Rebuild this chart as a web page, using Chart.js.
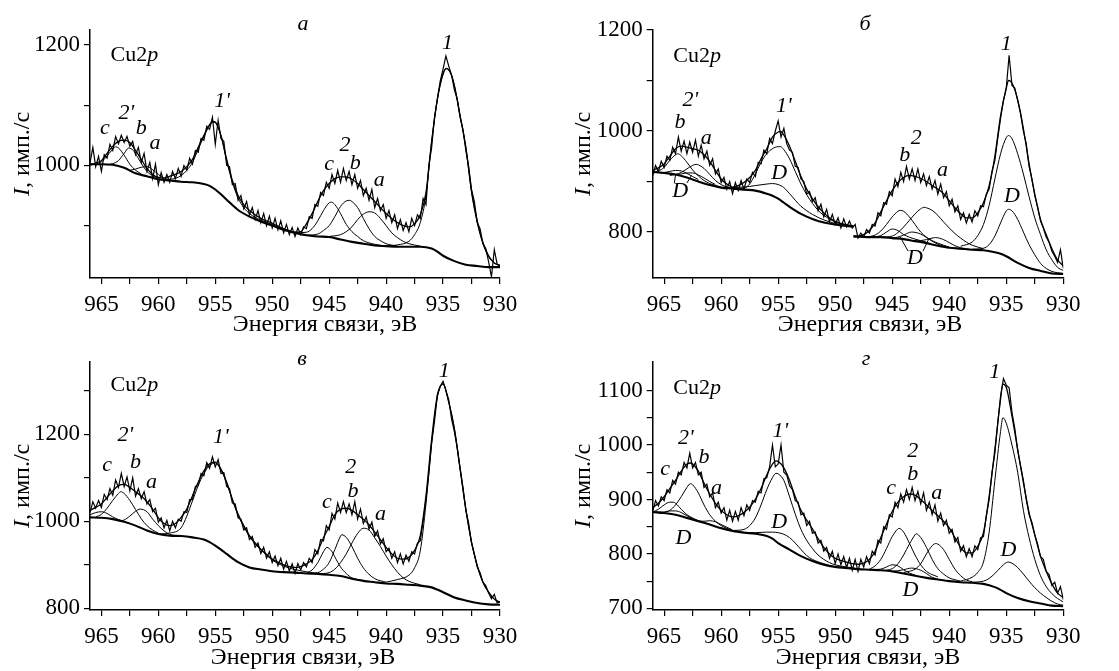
<!DOCTYPE html>
<html>
<head>
<meta charset="utf-8">
<script src="https://cdn.jsdelivr.net/npm/chart.js@4.4.1/dist/chart.umd.min.js"></script>
<style>
  html, body { margin: 0; padding: 0; background: #fff; }
  #page { position: relative; width: 1119px; height: 671px; overflow: hidden; }
  canvas { position: absolute; }
</style>
</head>
<body>
<div id="page">
  <canvas id="panelA" width="560" height="336" style="left:0;top:0"></canvas>
  <canvas id="panelB" width="559" height="336" style="left:560px;top:0"></canvas>
  <canvas id="panelC" width="560" height="335" style="left:0;top:336px"></canvas>
  <canvas id="panelD" width="559" height="335" style="left:560px;top:336px"></canvas>
</div>
<script>
// ---- shared axis data ----
const xTicks = [965, 962.5, 960, 957.5, 955, 952.5, 950, 947.5, 945, 942.5, 940, 937.5, 935, 932.5, 930];
const xLabelled = [965, 960, 955, 950, 945, 940, 935, 930];

// energy grid of the measured (noisy) spectra, eV
const energyGrid = [
  966,965.75,965.5,965.25,965,964.75,964.5,964.25,964,963.75,963.5,963.25,
  963,962.75,962.5,962.25,962,961.75,961.5,961.25,961,960.75,960.5,960.25,
  960,959.75,959.5,959.25,959,958.75,958.5,958.25,958,957.75,957.5,957.25,
  957,956.75,956.5,956.25,956,955.75,955.5,955.25,955,954.75,954.5,954.25,
  954,953.75,953.5,953.25,953,952.75,952.5,952.25,952,951.75,951.5,951.25,
  951,950.75,950.5,950.25,950,949.75,949.5,949.25,949,948.75,948.5,948.25,
  948,947.75,947.5,947.25,947,946.75,946.5,946.25,946,945.75,945.5,945.25,
  945,944.75,944.5,944.25,944,943.75,943.5,943.25,943,942.75,942.5,942.25,
  942,941.75,941.5,941.25,941,940.75,940.5,940.25,940,939.75,939.5,939.25,
  939,938.75,938.5,938.25,938,937.75,937.5,937.25,937,936.75,936.5,936.25,
  936,935.75,935.5,935.25,935,934.75,934.5,934.25,934,933.75,933.5,933.25,
  933,932.75,932.5,932.25,932,931.75,931.5,931.25,931,930.75,930.5,930.25,
  930];

// ---- panel а ----
const aYTicks = [900, 1000, 1100, 1200];
const aYLabelled = [1000, 1200];
const aMeasured = [
  1004,1030,998,1015,990,1018,1012,1035,1025,1048,1036,1050,
  1038,1048,1032,1040,1018,1030,1005,1020,990,1005,978,1002,
  968,988,972,985,972,990,978,995,982,1000,992,1012,
  1002,1025,1022,1045,1042,1065,1060,1080,1035,1075,1045,1040,
  1000,998,968,970,942,950,928,940,918,930,910,925,
  905,920,900,916,896,912,893,908,888,902,885,897,
  882,896,885,898,895,915,912,935,932,955,950,972,
  962,985,970,992,972,995,975,990,968,985,962,975,
  950,962,942,960,930,945,925,935,912,925,905,918,
  895,910,892,905,890,912,900,918,912,945,935,1000,
  1030,1080,1110,1140,1160,1182,1165,1150,1125,1110,1080,1060,
  1025,998,960,940,905,895,870,862,840,815,860,836,
  832];
const aEnvelope = [[966,1000],[965.5,1004],[965,1008],[964.5,1020],[964,1032],[963.5,1040],[963,1042],[962.5,1038],[962,1025],[961.5,1010],[961,995],[960.5,985],[960,980],[959.5,979],[959,982],[958.5,985],[958,990],[957.5,998],[957,1010],[956.5,1030],[956,1050],[955.5,1068],[955.2,1073],[955,1072],[954.5,1050],[954,1010],[953.5,975],[953,950],[952.5,935],[952,925],[951,912],[950,904],[949,895],[948,889],[947.5,890],[947,903],[946.5,920],[946,940],[945.5,958],[945,970],[944.5,978],[944,981],[943.5,981],[943,977],[942.5,970],[942,960],[941.5,950],[941,940],[940.5,930],[940,920],[939.5,912],[939,905],[938.5,900],[938,898],[937.5,903],[937,918],[936.5,955],[936,1040],[935.5,1110],[935,1152],[934.7,1161],[934.3,1152],[934,1132],[933.5,1082],[933,1030],[932.5,958],[932,908],[931.5,872],[931,850],[930.5,838],[930,834]];
const aBackground = [[966,1002],[965,1002],[964,1001],[963,996],[962,987],[961,982],[960,977],[959,975],[958,973],[957,972],[956,969],[955.5,966],[955,960],[954.5,952],[954,943],[953,926],[952,915],[951,907],[950,900],[949,893],[948,888],[947,884],[946,882],[945,881],[944,877],[943,873],[942,870],[941,867],[940,866],[939,865],[938,865],[937,865],[936,862],[935.5,857],[935,850],[934,841],[933,835],[932,833],[931,831],[930,831]];
const aPeak1 = [[940,866],[939,868],[938,874],[937.5,885],[937,905],[936.5,950],[936,1040],[935.5,1110],[935,1152],[934.7,1161],[934.3,1152],[934,1132],[933.5,1082],[933,1030],[932.5,955],[932,905],[931.5,870],[931,848],[930.5,838],[930,834]];
const aPeak1p = [[961,982],[960,977],[959,977],[958,983],[957.5,992],[957,1005],[956.5,1027],[956,1048],[955.5,1067],[955.2,1072],[955,1071],[954.5,1049],[954,1008],[953.5,972],[953,946],[952.5,930],[952,920],[951,909],[950,902],[949,894],[948,889],[947,884],[946,882]];
const aPeak2c = [[948,888],[947,889],[946.5,895],[946,908],[945.5,925],[945,938],[944.8,939],[944.5,935],[944,920],[943.5,902],[943,890],[942.5,882],[942,875],[941,869],[940,866]];
const aPeak2b = [[947,884],[946,886],[945.5,892],[945,900],[944.5,915],[944,932],[943.5,941],[943.2,942],[943,940],[942.5,930],[942,912],[941.5,895],[941,882],[940.5,875],[940,870],[939,866]];
const aPeak2a = [[945,882],[944,885],[943.5,890],[943,898],[942.5,910],[942,919],[941.5,923],[941,921],[940.5,912],[940,900],[939.5,888],[939,880],[938.5,874],[938,870],[937,866]];
const aPeak2pc = [[966,1002],[965.5,1003],[965,1006],[964.5,1016],[964,1027],[963.8,1031],[963.5,1029],[963,1017],[962.5,1002],[962,992],[961.5,986]];
const aPeak2pb = [[964.5,1001],[964,1003],[963.5,1008],[963,1020],[962.6,1029],[962.2,1025],[961.8,1013],[961.3,998],[961,990],[960.5,983],[960,978]];
const aPeak2pa = [[962.5,992],[962,994],[961.5,997],[961,998],[960.5,993],[960,985],[959.5,979],[959,976]];
const aLabels = [[934.6,1203,'1'],[954.4,1106,"1'"],[962.8,1087,"2'"],[964.7,1062,'c'],[961.5,1062,'b'],[960.3,1037,'a'],
  [943.6,1034,'2'],[945.0,1002,'c'],[942.7,1004,'b'],[940.6,976,'a']];

// ---- panel б ----
const bYTicks = [800, 900, 1000, 1100, 1200];
const bYLabelled = [800, 1000, 1200];
const bMeasured = [
  912,932,920,940,928,950,942,968,955,988,960,980,
  955,978,958,982,950,972,945,960,932,945,915,925,
  898,908,885,900,876,898,882,902,885,905,898,918,
  910,938,935,962,955,985,975,1000,1020,988,1005,975,
  962,958,930,928,905,900,875,880,860,868,842,855,
  830,845,820,835,815,828,808,826,810,822,808,815,
  788,798,790,805,798,815,812,838,832,858,855,880,
  872,905,890,918,900,930,905,925,902,925,898,915,
  892,910,885,902,875,895,868,880,852,865,840,852,
  825,838,818,835,820,842,832,852,850,875,885,920,
  942,985,1025,1060,1085,1150,1090,1085,1060,1035,1000,975,
  930,905,872,850,822,808,790,780,762,752,740,765,
  728];
const bEnvelopeL = [[966,922],[965.5,927],[965,935],[964.5,950],[964,965],[963.5,970],[963,968],[962.5,965],[962,962],[961.5,953],[961,940],[960.5,922],[960,905],[959.5,895],[959,889],[958.5,892],[958,898],[957.5,908],[957,922],[956.5,945],[956,965],[955.5,988],[955,998],[954.8,999],[954.5,992],[954,970],[953.5,940],[953,910],[952.5,885],[952,866],[951.5,850],[951,838],[950.5,828],[950,821],[949,814],[948.4,812]];
const bEnvelopeR = [[948.4,793],[948,792],[947.5,795],[947,803],[946.5,818],[946,840],[945.5,862],[945,882],[944.5,898],[944,908],[943.5,912],[943,910],[942.5,906],[942,900],[941.5,892],[941,885],[940.5,876],[940,862],[939.5,848],[939,836],[938.5,828],[938,828],[937.5,838],[937,858],[936.5,892],[936,950],[935.5,1030],[935,1085],[934.8,1100],[934.5,1095],[934,1062],[933.5,1005],[933,935],[932.5,875],[932,825],[931.5,795],[931,767],[930.5,745],[930,733]];
const bBackgroundL = [[966,919],[965,917],[964,914],[963,908],[962,900],[961,893],[960,888],[959,886],[958,884],[957,882],[956,876],[955.5,872],[955,866],[954.5,858],[954,850],[953,836],[952,826],[951,819],[950,815],[949,812],[948.4,811]];
const bBackgroundR = [[948.4,791],[948,791],[947,790],[946,790],[945,788],[944,786],[943,782],[942,778],[941,773],[940,769],[939,767],[938,765],[937,764],[936,760],[935.5,757],[935,752],[934,739],[933,729],[932,723],[931,718],[930,717]];
const bPeak1 = [[939,772],[938,780],[937.5,793],[937,815],[936.5,853],[936,905],[935.5,955],[935,987],[934.8,991],[934.5,985],[934,955],[933.5,915],[933,870],[932.5,828],[932,795],[931.5,765],[931,745],[930.5,730],[930,724]];
const bPeak1D = [[938,766],[937,768],[936.5,775],[936,792],[935.5,818],[935,842],[934.8,845],[934.5,842],[934,825],[933.5,800],[933,775],[932.5,755],[932,738],[931.5,728],[931,722],[930,718]];
const bPeak2b = [[947,791],[946.5,794],[946,802],[945.5,815],[945,830],[944.5,841],[944.3,843],[944,841],[943.5,830],[943,815],[942.5,800],[942,790],[941.5,783],[941,778],[940,770]];
const bPeak2a = [[946,790],[945,792],[944.5,799],[944,810],[943.5,823],[943,836],[942.5,846],[942.2,849],[942,848],[941.5,843],[941,833],[940.5,820],[940,808],[939.5,797],[939,788],[938.5,780],[938,774],[937,767]];
const bPeak2D1 = [[947,790],[946,793],[945.5,800],[945,806],[944.5,803],[944,795],[943,786],[942,780]];
const bPeak2D2 = [[945,788],[944.5,790],[944,794],[943.3,800],[942.5,796],[942,789],[941.5,782],[941,776],[940,770]];
const bPeak2D3 = [[943,782],[942.5,783],[942,785],[941.2,789],[940.5,785],[940,779],[939.5,773],[939,769],[938,765]];
const bPeak1p = [[959,886],[958,887],[957.5,895],[957,915],[956.5,938],[956,955],[955.5,965],[955,969],[954.8,969],[954.5,963],[954,945],[953.5,920],[953,895],[952.5,874],[952,857],[951.5,843],[951,833],[950.5,826],[950,820],[949,814],[948.4,812]];
const bPeak1pD = [[960,888],[958,889],[957,892],[956,895],[955.5,896],[955,894],[954.5,888],[954,876],[953.5,863],[953,851],[952,835],[951,824],[950,817],[949,813]];
const bPeak2pb = [[966,919],[965.5,921],[965,928],[964.5,942],[964,953],[963.8,955],[963.5,951],[963,938],[962.5,923],[962,911],[961.5,902],[961,896],[960,889]];
const bPeak2pa = [[964.5,912],[964,914],[963.5,918],[963,925],[962.5,932],[962.2,934],[962,933],[961.5,926],[961,914],[960.5,902],[960,894],[959.5,889],[959,887]];
const bPeak2pD1 = [[966,919],[965,918],[964.5,920],[964,922],[963.5,921],[963,916],[962.5,910],[962,904]];
const bPeak2pD2 = [[964,914],[963.5,915],[963,917],[962.5,917],[962,913],[961.5,907],[961,900],[960.5,894]];
const bLabels = [[935.0,1172,'1'],[954.5,1050,"1'"],[962.7,1060,"2'"],[963.6,1018,'b'],[961.3,985,'a'],[963.6,880,'D'],
  [954.9,916,'D'],[943.9,952,'b'],[942.9,985,'2'],[940.6,923,'a'],[934.5,871,'D'],[943.0,749,'D']];
// short leader strokes from the D labels to their peaks: [E1, I1, E2, I2]
const bLeaders = [[964.1,897,964.0,913],[963.0,897,962.6,912],[943.6,762,944.3,790],[942.3,762,941.8,786]];

// ---- panel в ----
const cYTicks = [800, 900, 1000, 1100, 1200, 1300];
const cYLabelled = [800, 1000, 1200];
const cMeasured = [
  1020,1045,1030,1048,1032,1062,1050,1075,1060,1095,1078,1110,
  1080,1102,1070,1100,1058,1075,1052,1068,1040,1050,1022,1030,
  998,1008,985,1002,978,1000,985,1005,1000,1022,1020,1050,
  1050,1080,1082,1110,1105,1135,1122,1148,1125,1142,1110,1112,
  1080,1075,1042,1040,1008,1005,980,985,958,965,940,950,
  926,940,915,930,905,920,898,915,890,908,886,902,
  880,903,888,905,895,915,905,935,925,958,955,990,
  980,1018,1005,1042,1020,1045,1020,1040,1015,1045,1005,1028,
  995,1010,982,998,965,978,948,960,930,938,915,930,
  905,925,902,922,908,930,925,950,955,1000,1050,1110,
  1180,1230,1290,1310,1322,1300,1280,1235,1205,1168,1122,1078,
  1025,995,950,925,895,882,860,852,835,822,832,812,
  815];
const cEnvelope = [[966,1025],[965.5,1032],[965,1040],[964.5,1055],[964,1070],[963.5,1082],[963,1085],[962.5,1078],[962,1068],[961.5,1058],[961,1045],[960.5,1028],[960,1008],[959.5,995],[959,990],[958.5,995],[958,1009],[957.5,1028],[957,1059],[956.5,1090],[956,1116],[955.5,1132],[955,1136],[954.5,1120],[954,1090],[953.5,1051],[953,1017],[952.5,990],[952,967],[951.5,950],[951,936],[950.5,924],[950,913],[949.5,906],[949,900],[948.5,896],[948,894],[947.5,896],[947,902],[946.5,912],[946,932],[945.5,962],[945,988],[944.5,1015],[944,1028],[943.5,1030],[943,1025],[942.5,1015],[942,1005],[941.5,992],[941,975],[940.5,958],[940,940],[939.5,925],[939,915],[938.5,913],[938,917],[937.5,933],[937,967],[936.5,1059],[936,1189],[935.5,1290],[935,1316],[934.5,1274],[934,1212],[933.5,1120],[933,1028],[932.5,952],[932,898],[931.5,860],[931,837],[930.5,821],[930,814]];
const cBackground = [[966,1009],[965,1008],[964,1005],[963,999],[962,990],[961,979],[960,971],[959,967],[958,966],[957,963],[956,958],[955.5,952],[955,944],[954.5,935],[954,925],[953,906],[952,894],[951,889],[950,885],[949,883],[948,882],[947,880],[946,879],[945,877],[944,874],[943,868],[942,863],[941,860],[940,857],[939,856],[938,854],[937,852],[936,848],[935.5,843],[935,837],[934,825],[933,818],[932,812],[931,809],[930,808]];
const cPeak1 = [[940,860],[939,866],[938,876],[937.5,893],[937,932],[936.5,1040],[936,1180],[935.5,1285],[935,1316],[934.5,1274],[934,1212],[933.5,1120],[933,1028],[932.5,952],[932,898],[931.5,860],[931,837],[930.5,821],[930,814]];
const cPeak1p = [[960,971],[959,973],[958,985],[957.5,1012],[957,1047],[956.5,1082],[956,1110],[955.5,1128],[955,1134],[954.5,1118],[954,1088],[953.5,1049],[953,1014],[952.5,988],[952,965],[951.5,948],[951,934],[950.5,922],[950,911],[949,897],[948,889],[947,884],[946,880]];
const cPeak2c = [[947,881],[946.5,888],[946,905],[945.5,930],[945.2,940],[944.8,932],[944.5,918],[944,895],[943.5,880],[943,870],[942,864]];
const cPeak2b = [[947,880],[946,882],[945.5,890],[945,905],[944.5,935],[944,966],[943.9,969],[943.5,963],[943,942],[942.5,915],[942,893],[941.5,878],[941,868],[940,860]];
const cPeak2a = [[946,879],[945,882],[944.5,890],[944,905],[943.5,925],[943,950],[942.5,972],[942,984],[941.5,980],[941,962],[940.5,942],[940,920],[939.5,900],[939,883],[938.5,870],[938,862],[937,854]];
const cPeak2pc = [[966,1015],[965.5,1020],[965,1022],[964.5,1018],[964,1010],[963.5,1004],[963,999],[962.5,995]];
const cPeak2pb = [[965.5,1010],[965,1016],[964.5,1030],[964,1048],[963.5,1064],[963.3,1068],[963,1064],[962.5,1048],[962,1027],[961.5,1006],[961,990],[960.5,980],[960,973]];
const cPeak2pa = [[963.5,1001],[963,1003],[962.5,1012],[962,1023],[961.6,1028],[961,1022],[960.5,1005],[960,990],[959.5,978],[959,970],[958.5,967]];
const cLabels = [[934.9,1346,'1'],[954.5,1193,"1'"],[962.9,1197,"2'"],[964.5,1128,'c'],[962.0,1136,'b'],[960.6,1090,'a'],
  [943.1,1124,'2'],[942.9,1070,'b'],[945.2,1044,'c'],[940.5,1017,'a']];

// ---- panel г ----
const dYTicks = [700, 750, 800, 850, 900, 950, 1000, 1050, 1100];
const dYLabelled = [700, 800, 900, 1000, 1100];
const dMeasured = [
  878,898,888,905,898,918,912,935,928,950,945,968,
  958,985,958,968,945,950,922,928,905,912,885,895,
  875,885,862,880,860,878,862,885,870,890,880,898,
  895,915,912,938,940,960,1000,960,965,1000,950,945,
  925,918,898,895,872,875,852,860,838,840,820,825,
  805,812,792,805,782,800,780,795,775,792,770,790,
  768,790,776,795,782,805,798,825,820,850,845,872,
  868,895,885,910,895,918,900,922,898,915,892,912,
  880,895,872,890,860,875,852,862,838,845,822,830,
  805,815,795,810,795,815,808,830,832,870,900,950,
  985,1040,1090,1122,1110,1105,1060,1030,990,962,935,900,
  872,858,835,818,795,790,768,762,742,748,728,740,
  716];
const dEnvelope = [[966,885],[965.5,893],[965,905],[964.5,920],[964,935],[963.5,952],[963,965],[962.7,967],[962.5,965],[962,952],[961.5,930],[961,910],[960.5,893],[960,880],[959.5,872],[959,868],[958.5,870],[958,876],[957.5,886],[957,900],[956.5,920],[956,945],[955.5,965],[955.2,971],[955,970],[954.5,958],[954,935],[953.5,905],[953,880],[952.5,862],[952,846],[951.5,828],[951,812],[950.5,800],[950,792],[949.5,788],[949,785],[948.5,782],[948,781],[947.5,783],[947,790],[946.5,805],[946,830],[945.5,855],[945,878],[944.5,895],[944,905],[943.5,910],[943,908],[942.5,900],[942,890],[941.5,880],[941,870],[940.5,860],[940,848],[939.5,830],[939,812],[938.5,802],[938,802],[937.5,814],[937,839],[936.5,906],[936,992],[935.5,1084],[935.3,1112],[935,1106],[934.5,1053],[934,992],[933.5,931],[933,876],[932.5,835],[932,796],[931.5,768],[931,745],[930.5,728],[930,720]];
const dBackground = [[966,877],[965,875],[964,872],[963,866],[962,860],[961,854],[960,847],[959,842],[958,839],[957,837],[956,833],[955.5,828],[955,820],[954,808],[953,796],[952,787],[951,780],[950,776],[949,774],[948,772],[947,771],[946,770],[945,768],[944,764],[943,760],[942,756],[941,753],[940,750],[939,748],[938,747],[937,745],[936,739],[935.5,734],[935,728],[934,719],[933,713],[932,709],[931,705],[930,704]];
const dPeak1 = [[939,750],[938,757],[937.5,766],[937,785],[936.5,840],[936,935],[935.5,1025],[935.3,1050],[935,1040],[934.5,1000],[934,950],[933.5,880],[933,830],[932.5,790],[932,760],[931.5,740],[931,727],[930.5,718],[930,712]];
const dPeak1D = [[938,748],[937,750],[936.5,755],[936,764],[935.5,775],[935,784],[934.8,785],[934.5,783],[934,775],[933.5,763],[933,750],[932.5,738],[932,728],[931.5,720],[931,713],[930.5,708],[930,706]];
const dPeak2c = [[947,772],[946.5,778],[946,790],[945.5,810],[945,832],[944.5,846],[944.4,847],[944,840],[943.5,820],[943,798],[942.5,780],[942,768],[941.5,762],[941,758]];
const dPeak2b = [[945.5,770],[945,773],[944.5,782],[944,798],[943.5,818],[943,835],[942.9,837],[942.5,830],[942,812],[941.5,790],[941,773],[940.5,763],[940,756],[939,750]];
const dPeak2a = [[944,766],[943.5,768],[943,772],[942.5,782],[942,800],[941.5,815],[941.2,819],[941,818],[940.5,808],[940,790],[939.5,772],[939,760],[938.5,752],[938,749]];
const dPeak2D1 = [[947,771],[946,772],[945.5,776],[945,780],[944.5,778],[944,771],[943.5,765],[943,761]];
const dPeak2D2 = [[945,768],[944.5,769],[944,771],[943.3,774],[942.5,770],[942,764],[941.5,757],[941,754]];
const dPeak1p = [[959,843],[958,845],[957.5,852],[957,866],[956.5,890],[956,918],[955.5,940],[955.2,948],[955,947],[954.5,935],[954,905],[953.5,873],[953,845],[952.5,825],[952,810],[951.5,798],[951,790],[950.5,784],[950,780],[949,776],[948,773]];
const dPeak1pD = [[960,848],[959,843],[958,840],[957,839],[956,840],[955.5,840],[955,839],[954.5,836],[954,830],[953.5,820],[953,808],[952.5,797],[952,790],[951,782],[950,777],[949,774]];
const dPeak2pc = [[966,877],[965.5,882],[965,890],[964.5,895],[964.2,895],[964,893],[963.5,882],[963,872],[962.5,866],[962,861]];
const dPeak2pb = [[965,876],[964.5,880],[964,890],[963.5,905],[963,922],[962.7,929],[962.5,927],[962,912],[961.5,890],[961,872],[960.5,860],[960,852],[959.5,847],[959,843]];
const dPeak2pa = [[963,867],[962,861],[961.5,860],[961,861],[960.5,859],[960,854],[959.5,849],[959,844]];
const dPeak2pD = [[966,877],[965,877],[964.5,879],[964,879],[963.5,876],[963,870],[962.5,865]];
const dLabels = [[936.0,1133,'1'],[954.8,1026,"1'"],[963.1,1013,"2'"],[964.9,956,'c'],[961.5,977,'b'],[960.4,920,'a'],
  [963.3,829,'D'],[954.9,858,'D'],[943.2,989,'2'],[943.2,946,'b'],[945.1,920,'c'],[941.1,912,'a'],
  [934.8,807,'D'],[943.4,733,'D']];

// ---- look & layout ----
const serif = '"Liberation Serif", "Times New Roman", serif';
const tickFont = { family: serif, size: 23 };
const labelSize = 22;
const titleSize = 24;

const panels = {
  panelA: {
    letter: 'а', letterAt: [303, 30], cuAt: [964.2, 1183],
    yMin: 813, yMax: 1225, yTicks: aYTicks, yLabelled: aYLabelled, labels: aLabels, leaders: [],
    box: { left: 90, right: 60, top: 30, xAxis: 58 }, xTitleDx: 30, xTitleY: 331, yTitleX: 29,
    measured: aMeasured, background: [aBackground], envelope: [aEnvelope],
    parts: [aPeak1, aPeak1p, aPeak2a, aPeak2b, aPeak2c, aPeak2pa, aPeak2pb, aPeak2pc]
  },
  panelB: {
    letter: 'б', letterAt: [305, 30], cuAt: [964.2, 1149],
    yMin: 709, yMax: 1200, yTicks: bYTicks, yLabelled: bYLabelled, labels: bLabels, leaders: bLeaders,
    box: { left: 92.7, right: 55.7, top: 30, xAxis: 58 }, xTitleDx: 12, xTitleY: 331, yTitleX: 30,
    measured: bMeasured, background: [bBackgroundL, bBackgroundR], envelope: [bEnvelopeL, bEnvelopeR],
    parts: [bPeak1, bPeak1D, bPeak2a, bPeak2b, bPeak2D1, bPeak2D2, bPeak2D3, bPeak1p, bPeak1pD,
      bPeak2pa, bPeak2pb, bPeak2pD1, bPeak2pD2]
  },
  panelC: {
    letter: 'в', letterAt: [302, 29], cuAt: [964.2, 1312],
    yMin: 796, yMax: 1367, yTicks: cYTicks, yLabelled: cYLabelled, labels: cLabels, leaders: [],
    box: { left: 90, right: 60, top: 25.7, xAxis: 61 }, xTitleDx: 8, xTitleY: 328, yTitleX: 29,
    measured: cMeasured, background: [cBackground], envelope: [cEnvelope],
    parts: [cPeak1, cPeak1p, cPeak2a, cPeak2b, cPeak2c, cPeak2pa, cPeak2pb, cPeak2pc]
  },
  panelD: {
    letter: 'г', letterAt: [306, 29], cuAt: [964.2, 1105],
    yMin: 697, yMax: 1153, yTicks: dYTicks, yLabelled: dYLabelled, labels: dLabels, leaders: [],
    box: { left: 92.7, right: 55.7, top: 25.7, xAxis: 61 }, xTitleDx: 10, xTitleY: 328, yTitleX: 30,
    measured: dMeasured, background: [dBackground], envelope: [dEnvelope],
    parts: [dPeak1, dPeak1D, dPeak2a, dPeak2b, dPeak2c, dPeak2D1, dPeak2D2, dPeak1p, dPeak1pD,
      dPeak2pa, dPeak2pb, dPeak2pc, dPeak2pD]
  }
};

// draws panel letter, peak labels, Cu2p and the axis titles
const panelText = {
  id: 'panelText',
  afterDraw(chart) {
    const p = panels[chart.canvas.id];
    const { ctx, chartArea, scales } = chart;
    const px = e => scales.x.getPixelForValue(e);
    const py = v => scales.y.getPixelForValue(v);
    const italic = `italic ${labelSize}px ${serif}`;
    const upright = `${labelSize}px ${serif}`;

    ctx.save();
    ctx.fillStyle = '#000';
    ctx.strokeStyle = '#000';

    // leader strokes for some D labels
    ctx.lineWidth = 1;
    p.leaders.forEach(([e1, v1, e2, v2]) => {
      ctx.beginPath();
      ctx.moveTo(px(e1), py(v1));
      ctx.lineTo(px(e2), py(v2));
      ctx.stroke();
    });

    ctx.font = italic;
    ctx.textAlign = 'center';
    ctx.textBaseline = 'alphabetic';
    ctx.fillText(p.letter, p.letterAt[0], p.letterAt[1]);

    ctx.textBaseline = 'middle';
    p.labels.forEach(([e, v, t]) => ctx.fillText(t, px(e), py(v)));

    // Cu2p with italic p
    ctx.textAlign = 'left';
    let x = px(p.cuAt[0]);
    const y = py(p.cuAt[1]);
    ctx.font = upright;
    ctx.fillText('Cu2', x, y);
    x += ctx.measureText('Cu2').width;
    ctx.font = italic;
    ctx.fillText('p', x, y);

    // x axis title
    ctx.font = `${titleSize}px ${serif}`;
    ctx.textAlign = 'center';
    ctx.textBaseline = 'alphabetic';
    ctx.fillText('Энергия связи, эВ', (chartArea.left + chartArea.right) / 2 + p.xTitleDx, p.xTitleY);

    // y axis title, rotated
    const tItalic = `italic ${titleSize}px ${serif}`;
    const tUpright = `${titleSize}px ${serif}`;
    ctx.translate(p.yTitleX, (chartArea.top + chartArea.bottom) / 2);
    ctx.rotate(-Math.PI / 2);
    ctx.font = tItalic;
    const wI = ctx.measureText('I').width;
    ctx.font = tUpright;
    const rest = ', имп./с';
    const wR = ctx.measureText(rest).width;
    const sx = -(wI + wR) / 2;
    ctx.textAlign = 'left';
    ctx.font = tItalic;
    ctx.fillText('I', sx, 0);
    ctx.font = tUpright;
    ctx.fillText(rest, sx + wI, 0);
    ctx.restore();
  }
};

function toPoints(pairs) {
  return pairs.map(([x, y]) => ({ x, y }));
}

function lineSet(data, width, smooth) {
  return {
    data: data,
    borderColor: '#000',
    borderWidth: width,
    pointRadius: 0,
    fill: false,
    cubicInterpolationMode: smooth ? 'monotone' : 'default',
    tension: 0
  };
}

function makePanel(id) {
  const p = panels[id];
  const datasets = [];
  p.background.forEach(b => datasets.push(lineSet(toPoints(b), 2.1, true)));
  p.parts.forEach(c => datasets.push(lineSet(toPoints(c), 1, true)));
  p.envelope.forEach(e => datasets.push(lineSet(toPoints(e), 1.3, true)));
  datasets.push(lineSet(energyGrid.map((e, i) => ({ x: e, y: p.measured[i] })), 1.2, false));

  return new Chart(document.getElementById(id), {
    type: 'line',
    data: { datasets: datasets },
    options: {
      responsive: false,
      animation: false,
      events: [],
      layout: { padding: { top: p.box.top, right: p.box.right, left: 0, bottom: 0 } },
      plugins: { legend: { display: false }, tooltip: { enabled: false } },
      scales: {
        x: {
          type: 'linear', reverse: true, min: 930, max: 966,
          afterBuildTicks: axis => { axis.ticks = xTicks.map(v => ({ value: v })); },
          afterFit: scale => { scale.height = p.box.xAxis; },
          grid: { drawOnChartArea: false, tickLength: 6, color: '#000', lineWidth: 1.2 },
          border: { color: '#000', width: 1.5 },
          ticks: {
            font: tickFont, color: '#000', padding: 7, maxRotation: 0, autoSkip: false,
            callback: v => (xLabelled.includes(v) ? String(v) : '')
          }
        },
        y: {
          type: 'linear', min: p.yMin, max: p.yMax,
          afterBuildTicks: axis => { axis.ticks = p.yTicks.map(v => ({ value: v })); },
          afterFit: scale => { scale.width = p.box.left; },
          grid: { drawOnChartArea: false, tickLength: 6, color: '#000', lineWidth: 1.2 },
          border: { color: '#000', width: 1.5 },
          ticks: {
            font: tickFont, color: '#000', padding: 4, autoSkip: false,
            callback: v => (p.yLabelled.includes(v) ? String(v) : '')
          }
        }
      }
    },
    plugins: [panelText]
  });
}

document.addEventListener('DOMContentLoaded', function() {
  Object.keys(panels).forEach(makePanel);
});
</script>
</body>
</html>
